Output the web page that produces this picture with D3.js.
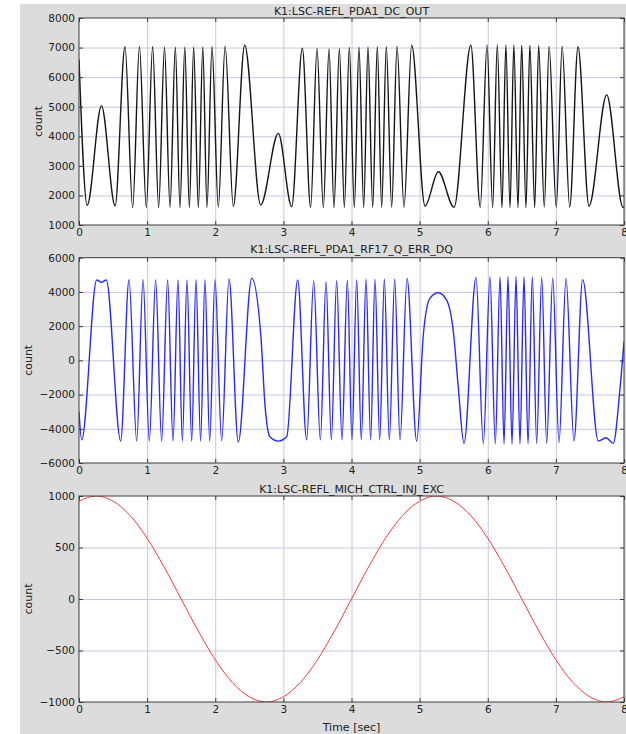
<!DOCTYPE html>
<html>
<head>
<meta charset="utf-8">
<script src="https://cdn.jsdelivr.net/npm/d3@7"></script>
<style>
  html, body { margin: 0; padding: 0; background: #fff; }
  svg { display: block; font-family: "DejaVu Sans", sans-serif; }
  .grid line { stroke: #c6c6e0; stroke-width: 1; }
  .grid path { display: none; }
  .frame { fill: none; stroke: #3a3a3a; stroke-width: 1; }
  .ticks path { display: none; }
  .ticks line { stroke: #3a3a3a; }
  .ticks text { font-size: 10.5px; fill: #222; font-family: "DejaVu Sans", sans-serif; }
  .title, .label { font-size: 11px; fill: #222; }
  .line { fill: none; stroke-linejoin: round; }
</style>
</head>
<body>
<svg id="chart" width="626" height="734"></svg>
<script>
// values: [time in sec, count]
const timeTicks = [0, 1, 2, 3, 4, 5, 6, 7, 8];

const dcTicks = [1000, 2000, 3000, 4000, 5000, 6000, 7000, 8000];
const dcOut = [
  [0, 6600], [0.12, 1670], [0.33, 5030], [0.53, 1650], [0.675, 7030], [0.788, 1600],
  [0.887, 7030], [0.988, 1600], [1.081, 7030], [1.169, 1600], [1.255, 7010], [1.336, 1600],
  [1.414, 7010], [1.483, 1590], [1.553, 7010], [1.62, 1590], [1.683, 7010], [1.752, 1590],
  [1.817, 7020], [1.879, 1600], [1.952, 7030], [2.045, 1610], [2.145, 7050], [2.265, 1630],
  [2.432, 7080], [2.667, 1680], [2.926, 4100], [3.122, 1620], [3.278, 6980], [3.40, 1600],
  [3.494, 6960], [3.587, 1590], [3.67, 6950], [3.743, 1590], [3.822, 6960], [3.895, 1590],
  [3.968, 7000], [4.041, 1590], [4.11, 7010], [4.179, 1590], [4.242, 7020], [4.311, 1600],
  [4.379, 7030], [4.443, 1600], [4.511, 7030], [4.59, 1600], [4.668, 7040], [4.771, 1610],
  [4.883, 7080], [5.079, 1640], [5.275, 2800], [5.505, 1600], [5.752, 7080], [5.89, 1600],
  [5.99, 7090], [6.072, 1590], [6.14, 7090], [6.209, 1590], [6.266, 7090], [6.327, 1590],
  [6.383, 7090], [6.444, 1590], [6.498, 7080], [6.561, 1590], [6.618, 7070], [6.689, 1600],
  [6.747, 7060], [6.83, 1600], [6.90, 7040], [7.006, 1600], [7.092, 7040], [7.203, 1610],
  [7.325, 7030], [7.486, 1640], [7.746, 5400], [7.985, 1600], [8.0, 1620]
];

const rfTicks = [-6000, -4000, -2000, 0, 2000, 4000, 6000];
const rfQ = [
  [0, -3000], [0.04, -4650], [0.26, 4700], [0.33, 4560], [0.40, 4700], [0.612, -4710],
  [0.734, 4720], [0.847, -4720], [0.94, 4720], [1.032, -4720], [1.125, 4700], [1.213, -4720],
  [1.301, 4700], [1.38, -4720], [1.453, 4700], [1.517, -4720], [1.585, 4700], [1.654, -4720],
  [1.717, 4710], [1.785, -4720], [1.849, 4710], [1.918, -4720], [1.996, 4720], [2.094, -4700],
  [2.202, 4760], [2.338, -4780], [2.535, 4800], [2.67, 1400], [2.73, -2600], [2.80, -4450],
  [2.926, -4720], [3.05, -4450], [3.21, 4700], [3.342, -4650], [3.445, 4640], [3.543, -4650],
  [3.626, 4600], [3.704, -4650], [3.782, 4650], [3.86, -4650], [3.939, 4680], [4.007, -4650],
  [4.076, 4700], [4.144, -4650], [4.213, 4740], [4.281, -4650], [4.345, 4740], [4.414, -4650],
  [4.482, 4740], [4.555, -4650], [4.634, 4750], [4.712, -4650], [4.815, 4790], [4.957, -4730],
  [5.054, 1480], [5.15, 3620], [5.275, 3950], [5.397, 3520], [5.495, 1680], [5.568, -1600],
  [5.651, -4850], [5.828, 4830], [5.935, -4870], [6.033, 4870], [6.111, -4880], [6.18, 4880],
  [6.239, -4880], [6.297, 4890], [6.356, -4880], [6.415, 4890], [6.473, -4880], [6.532, 4880],
  [6.591, -4870], [6.654, 4870], [6.718, -4860], [6.792, 4860], [6.865, -4850], [6.954, 4800],
  [7.046, -4800], [7.149, 4780], [7.266, -4700], [7.393, 4720], [7.623, -4710], [7.736, -4520],
  [7.843, -4850], [7.94, -1700], [8.0, 1100]
];

const michTicks = [-1000, -500, 0, 500, 1000];
const michExc = [
  [0, 950], [0.25, 1000], [0.5, 950], [0.75, 810], [1.0, 590], [1.25, 310], [1.5, 0],
  [1.75, -310], [2.0, -590], [2.25, -810], [2.5, -950], [2.75, -1000], [3.0, -950],
  [3.25, -810], [3.5, -590], [3.75, -310], [4.0, 0], [4.25, 310], [4.5, 590], [4.75, 810],
  [5.0, 950], [5.25, 1000], [5.5, 950], [5.75, 810], [6.0, 590], [6.25, 310], [6.5, 0],
  [6.75, -310], [7.0, -590], [7.25, -810], [7.5, -950], [7.75, -1000], [8.0, -950]
];

const panels = [
  { title: "K1:LSC-REFL_PDA1_DC_OUT", data: dcOut, ticks: dcTicks, top: 18, bottom: 225,
    titleY: 15, labelX: 38, color: "#151515", width: 1.4 },
  { title: "K1:LSC-REFL_PDA1_RF17_Q_ERR_DQ", data: rfQ, ticks: rfTicks, top: 257.7, bottom: 463,
    titleY: 253, labelX: 28, color: "#2b2bee", width: 1.4 },
  { title: "K1:LSC-REFL_MICH_CTRL_INJ_EXC", data: michExc, ticks: michTicks, top: 496, bottom: 702,
    titleY: 493, labelX: 28, color: "#ef3f3f", width: 1 }
];

const svg = d3.select("#chart");
const left = 79, right = 624;

// figure background
svg.append("rect").attr("x", 20).attr("y", 4).attr("width", 606).attr("height", 730).attr("fill", "#dcdcdc");

const x = d3.scaleLinear().domain([0, 8]).range([left, right]);

panels.forEach((p, i) => {
  const y = d3.scaleLinear().domain(d3.extent(p.ticks)).range([p.bottom, p.top]);
  const h = p.bottom - p.top;
  const g = svg.append("g");

  g.append("rect").attr("x", left).attr("y", p.top).attr("width", right - left).attr("height", h).attr("fill", "#fff");

  // grid
  g.append("g").attr("class", "grid").attr("transform", `translate(0,${p.bottom})`)
    .call(d3.axisBottom(x).tickValues(timeTicks.slice(1, -1)).tickSize(-h).tickFormat(""));
  g.append("g").attr("class", "grid").attr("transform", `translate(${left},0)`)
    .call(d3.axisLeft(y).tickValues(p.ticks.slice(1, -1)).tickSize(-(right - left)).tickFormat(""));

  // signal
  g.append("clipPath").attr("id", "clip" + i).append("rect")
    .attr("x", left).attr("y", p.top).attr("width", right - left).attr("height", h);
  g.append("path").datum(p.data).attr("class", "line").attr("clip-path", `url(#clip${i})`)
    .attr("stroke", p.color).attr("stroke-width", p.width)
    .attr("d", d3.line().x(d => x(d[0])).y(d => y(d[1])).curve(d3.curveMonotoneX));

  // inward ticks on all sides, labels left and bottom
  g.append("g").attr("class", "ticks").attr("transform", `translate(${left},0)`)
    .call(d3.axisLeft(y).tickValues(p.ticks).tickSizeInner(-4).tickSizeOuter(0).tickPadding(4).tickFormat(d3.format("d")));
  g.append("g").attr("class", "ticks").attr("transform", `translate(${right},0)`)
    .call(d3.axisRight(y).tickValues(p.ticks).tickSizeInner(-4).tickSizeOuter(0).tickFormat(""));
  g.append("g").attr("class", "ticks").attr("transform", `translate(0,${p.bottom})`)
    .call(d3.axisBottom(x).tickValues(timeTicks).tickSizeInner(-4).tickSizeOuter(0).tickPadding(4).tickFormat(d3.format("d")));
  g.append("g").attr("class", "ticks").attr("transform", `translate(0,${p.top})`)
    .call(d3.axisTop(x).tickValues(timeTicks).tickSizeInner(-4).tickSizeOuter(0).tickFormat(""));

  g.append("rect").attr("class", "frame").attr("x", left).attr("y", p.top).attr("width", right - left).attr("height", h);

  g.append("text").attr("class", "title").attr("x", (left + right) / 2).attr("y", p.titleY)
    .attr("text-anchor", "middle").text(p.title);
  g.append("text").attr("class", "label")
    .attr("transform", `translate(${p.labelX},${(p.top + p.bottom) / 2}) rotate(-90)`)
    .attr("text-anchor", "middle").attr("dy", "0.35em").text("count");
});

svg.append("text").attr("class", "label").attr("x", (left + right) / 2).attr("y", 731)
  .attr("text-anchor", "middle").text("Time [sec]");
</script>
</body>
</html>
